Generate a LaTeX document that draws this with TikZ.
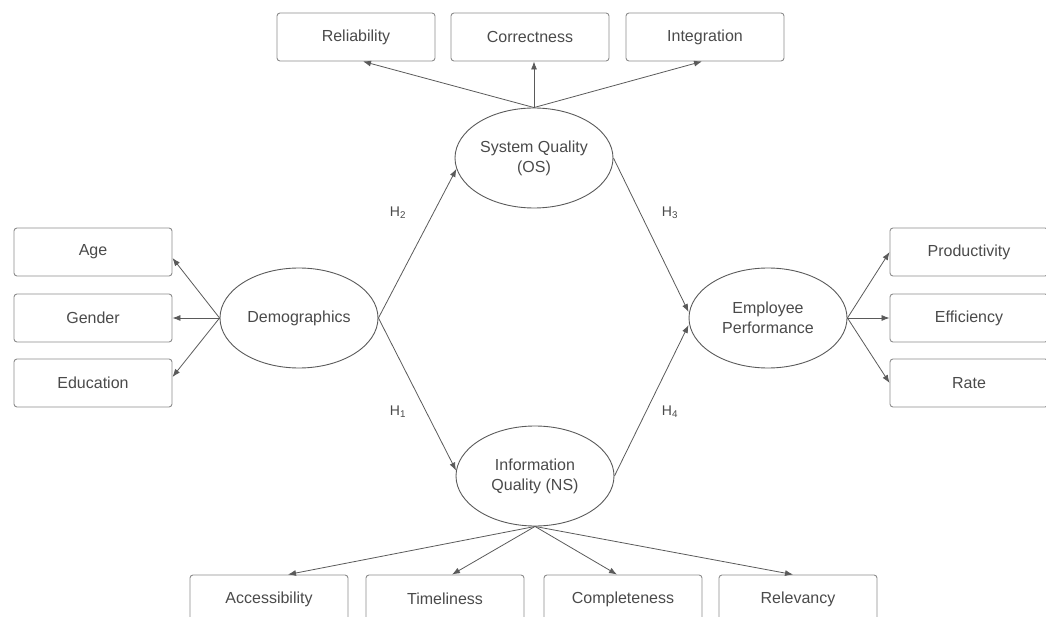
\documentclass[tikz,border=0pt]{standalone}
\usepackage{fontspec}
\setmainfont{Liberation Sans}
\usetikzlibrary{arrows.meta,shapes.geometric}
\definecolor{lineg}{HTML}{5A5A5A}
\definecolor{boxg}{HTML}{8C8C8C}
\definecolor{txtg}{HTML}{4A4A4A}
\tikzset{
  ibox/.style={draw=boxg, line width=0.9pt, rounded corners=3pt, minimum width=158pt, minimum height=48pt, inner sep=0pt, text=txtg, font=\fontsize{16}{20}\selectfont},
  latent/.style={ellipse, draw=lineg, line width=0.9pt, minimum width=158pt, minimum height=100pt, inner sep=0pt, align=center, text=txtg, font=\fontsize{16}{20}\selectfont},
  conn/.style={draw=lineg, line width=0.8pt, -{Latex[length=8pt,width=6pt]}},
  hlab/.style={text=txtg, font=\fontsize{14}{16}\selectfont}
}
\begin{document}
\begin{tikzpicture}[x=1pt,y=-1pt]
\useasboundingbox (0,0) rectangle (1046,617);
\clip (0,0) rectangle (1046,617);
% top boxes
\node[ibox] (rel) at (356,37) {Reliability};
\node[ibox] (cor) at (530,37) {Correctness};
\node[ibox] (int) at (705,37) {Integration};
% left boxes
\node[ibox] (age) at (93,252) {Age};
\node[ibox] (gen) at (93,318) {Gender};
\node[ibox] (edu) at (93,383) {Education};
% right boxes
\node[ibox] (pro) at (969,252) {Productivity};
\node[ibox] (eff) at (969,318) {Efficiency};
\node[ibox] (rat) at (969,383) {Rate};
% bottom boxes
\node[ibox] (acc) at (269,599) {Accessibility};
\node[ibox] (tim) at (445,599) {Timeliness};
\node[ibox] (com) at (623,599) {Completeness};
\node[ibox] (rlv) at (798,599) {Relevancy};
% ellipses
\node[latent] (demo) at (299,318) {Demographics};
\node[latent] (sq) at (534,158) {System Quality\\(OS)};
\node[latent] (iq) at (535,476) {Information\\Quality (NS)};
\node[latent] (ep) at (768,318) {Employee\\Performance};
% connectors
\draw[conn] (sq.north) -- ([xshift=7pt]rel.south);
\draw[conn] (sq.north) -- (cor.south -| sq.north);
\draw[conn] (sq.north) -- ([xshift=-3pt]int.south);
\draw[conn] (demo.west) -- ([yshift=-6pt]age.east);
\draw[conn] (demo.west) -- (gen.east);
\draw[conn] (demo.west) -- ([yshift=6pt]edu.east);
\draw[conn] (ep.east) -- (pro.west);
\draw[conn] (ep.east) -- (eff.west);
\draw[conn] (ep.east) -- (rat.west);
\draw[conn] (iq.south) -- ([xshift=19pt]acc.north);
\draw[conn] (iq.south) -- ([xshift=7pt]tim.north);
\draw[conn] (iq.south) -- ([xshift=-6pt]com.north);
\draw[conn] (iq.south) -- ([xshift=-5pt]rlv.north);
\draw[conn] (demo.east) -- (sq.188);
\draw[conn] (demo.east) -- (iq.176);
\draw[conn] (sq.east) -- ([yshift=6pt]ep.west);
\draw[conn] (iq.east) -- ([yshift=-7pt]ep.west);
% hypothesis labels
\node[hlab] (h2) at (398,213) {H\textsubscript{2}};
\node[hlab] (h3) at (670,213) {H\textsubscript{3}};
\node[hlab] (h1) at (398,412) {H\textsubscript{1}};
\node[hlab] (h4) at (670,412) {H\textsubscript{4}};
\end{tikzpicture}
\end{document}
